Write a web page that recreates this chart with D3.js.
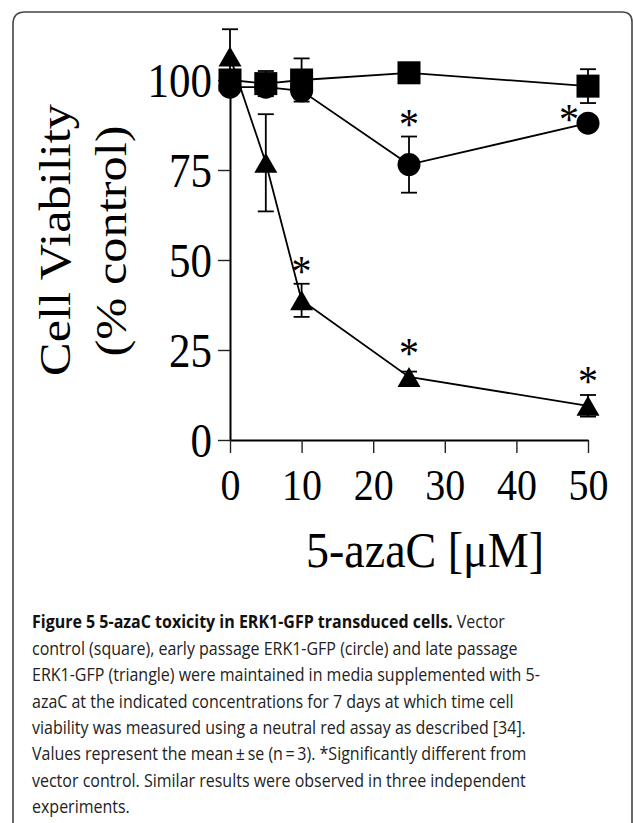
<!DOCTYPE html>
<html>
<head>
<meta charset="utf-8">
<script src="https://cdn.jsdelivr.net/npm/d3@7"></script>
<style>
  html, body { margin: 0; padding: 0; background: #fff; }
  svg { display: block; }
</style>
</head>
<body>
<svg id="chart" width="633" height="823"></svg>
<script>
// ---------- data ----------
const doses = [0, 5, 10, 25, 50];
const vectorMean = [100, 99, 100, 102, 98.3];
const vectorSE   = [0, 3.5, 6, 0, 4.7];
const earlyMean  = [98, 98, 97, 76.5, 88];
const earlySE    = [0, 0, 0, 7.8, 0];
const lateMean   = [106.5, 77, 38.8, 17.5, 9.5];
const lateSE     = [7.6, 13.5, 4.6, 1.5, 3];
const earlySig   = [false, false, false, true, true];
const lateSig    = [false, false, true, true, true];
const xTicks = [0, 10, 20, 30, 40, 50];
const yTicks = [0, 25, 50, 75, 100];
const xTitle = "5-azaC [\u03BCM]";
const yTitle1 = "Cell Viability";
const yTitle2 = "(% control)";
const captionLines = [
  [["Figure 5 5-azaC toxicity in ERK1-GFP transduced cells.", true], [" Vector", false]],
  [["control (square), early passage ERK1-GFP (circle) and late passage", false]],
  [["ERK1-GFP (triangle) were maintained in media supplemented with 5-", false]],
  [["azaC at the indicated concentrations for 7 days at which time cell", false]],
  [["viability was measured using a neutral red assay as described [34].", false]],
  [["Values represent the mean\u2009\u00B1\u2009se (n\u2009=\u20093). *Significantly different from", false]],
  [["vector control. Similar results were observed in three independent", false]],
  [["experiments.", false]]
];

// ---------- layout ----------
const svg = d3.select("#chart");
const serif = "'Liberation Serif', 'Times New Roman', serif";
const sy = 1.12; // vertical stretch of the original figure

// frame
svg.append("path")
  .attr("d", "M13,860 L13,24 Q13,12 25,12 L622,12 Q632,12 632,22 L632,860")
  .attr("fill", "none").attr("stroke", "#444").attr("stroke-width", 1.6);

const x = d3.scaleLinear().domain([0, 50]).range([230, 588]);
const y = d3.scaleLinear().domain([0, 100]).range([440, 80]);

// axes
const gy = svg.append("g").attr("transform", `translate(${x(0)},0)`)
  .call(d3.axisLeft(y).tickValues(yTicks).tickSize(12).tickSizeOuter(0).tickPadding(6));
gy.select(".domain").attr("stroke", "#000").attr("stroke-width", 2);
gy.selectAll(".tick line").attr("stroke", "#222").attr("stroke-width", 1.4);
gy.selectAll(".tick text")
  .attr("dy", null).attr("x", -18).attr("y", 16.3 / sy)
  .attr("transform", `scale(1,${sy})`)
  .attr("font-family", serif).attr("font-size", 43).attr("fill", "#000")
  .attr("text-anchor", "end");

const gx = svg.append("g").attr("transform", `translate(0,${y(0)})`)
  .call(d3.axisBottom(x).tickValues(xTicks).tickSize(13).tickSizeOuter(0));
gx.select(".domain").attr("stroke", "#000").attr("stroke-width", 2);
gx.selectAll(".tick line").attr("stroke", "#222").attr("stroke-width", 1.4);
gx.selectAll(".tick text")
  .attr("dy", null).attr("y", 60 / 1.11)
  .attr("transform", "scale(1,1.11)")
  .attr("font-family", serif).attr("font-size", 40).attr("fill", "#000");

// axis titles
svg.append("text")
  .attr("transform", `translate(${(230 + 588) / 2 + 16},567) scale(1,1.08)`)
  .attr("text-anchor", "middle").attr("font-family", serif).attr("font-size", 46)
  .attr("fill", "#000").text(xTitle);

svg.append("text")
  .attr("transform", `translate(70,240) rotate(-90) scale(${sy},1)`)
  .attr("text-anchor", "middle").attr("font-family", serif).attr("font-size", 45)
  .attr("fill", "#000").text(yTitle1);
svg.append("text")
  .attr("transform", `translate(126,241) rotate(-90) scale(${sy},1)`)
  .attr("text-anchor", "middle").attr("font-family", serif).attr("font-size", 45)
  .attr("fill", "#000").text(yTitle2);

// series
const series = [
  { mean: vectorMean, se: vectorSE, shape: "square", sig: null },
  { mean: earlyMean,  se: earlySE,  shape: "circle", sig: earlySig },
  { mean: lateMean,   se: lateSE,   shape: "triangle", sig: lateSig }
];

const line = d3.line().x(d => x(d[0])).y(d => y(d[1]));
const plot = svg.append("g");

series.forEach(s => {
  const pts = doses.map((d, i) => [d, s.mean[i]]);
  plot.append("path").attr("d", line(pts))
    .attr("fill", "none").attr("stroke", "#000").attr("stroke-width", 1.8);
});

const cap = 8;
series.forEach(s => {
  doses.forEach((d, i) => {
    const e = s.se[i];
    if (!e) return;
    const cx = x(d), y1 = y(s.mean[i] + e), y0 = y(s.mean[i] - e);
    const g = plot.append("g").attr("stroke", "#000").attr("stroke-width", 1.8);
    g.append("line").attr("x1", cx).attr("x2", cx).attr("y1", y1).attr("y2", y0);
    g.append("line").attr("x1", cx - cap).attr("x2", cx + cap).attr("y1", y1).attr("y2", y1);
    g.append("line").attr("x1", cx - cap).attr("x2", cx + cap).attr("y1", y0).attr("y2", y0);
  });
});

function marker(shape, cx, cy) {
  if (shape === "square") {
    plot.append("rect").attr("x", cx - 11.5).attr("y", cy - 11.5)
      .attr("width", 23).attr("height", 23).attr("fill", "#000");
  } else if (shape === "circle") {
    plot.append("circle").attr("cx", cx).attr("cy", cy).attr("r", 11.5).attr("fill", "#000");
  } else {
    plot.append("path")
      .attr("d", `M${cx},${cy - 10} L${cx + 11.5},${cy + 10} L${cx - 11.5},${cy + 10} Z`)
      .attr("fill", "#000");
  }
}
// draw circles first, then triangles, then squares on top
[series[1], series[2], series[0]].forEach(s => {
  doses.forEach((d, i) => marker(s.shape, x(d), y(s.mean[i])));
});

// significance asterisks
const astFs = 40;
series.forEach(s => {
  if (!s.sig) return;
  doses.forEach((d, i) => {
    if (!s.sig[i]) return;
    const cy = y(s.mean[i]);
    const topErr = s.se[i] ? y(s.mean[i] + s.se[i]) : cy - 11.5;
    let ax = x(d), ay = Math.min(topErr, cy - 11.5) - 19;
    if (s.shape === "circle" && i === doses.length - 1) { ax = x(d) - 19; ay = cy - 10; }
    svg.append("text")
      .attr("transform", `translate(${ax},${ay + 0.47 * astFs * sy}) scale(1,${sy})`)
      .attr("text-anchor", "middle").attr("font-family", serif).attr("font-size", astFs)
      .attr("fill", "#000").text("*");
  });
});

// caption
const capSans = "'Open Sans', 'Noto Sans', sans-serif";
captionLines.forEach((parts, li) => {
  const t = svg.append("text")
    .attr("transform", `translate(32,${628.3 + li * 26.4}) scale(1,1.08)`)
    .attr("font-family", capSans).attr("font-size", 16).attr("fill", "#222");
  parts.forEach(([txt, bold]) => {
    t.append("tspan").attr("font-weight", bold ? 700 : 400)
      .attr("fill", bold ? "#111" : "#222").text(txt);
  });
});
</script>
</body>
</html>
